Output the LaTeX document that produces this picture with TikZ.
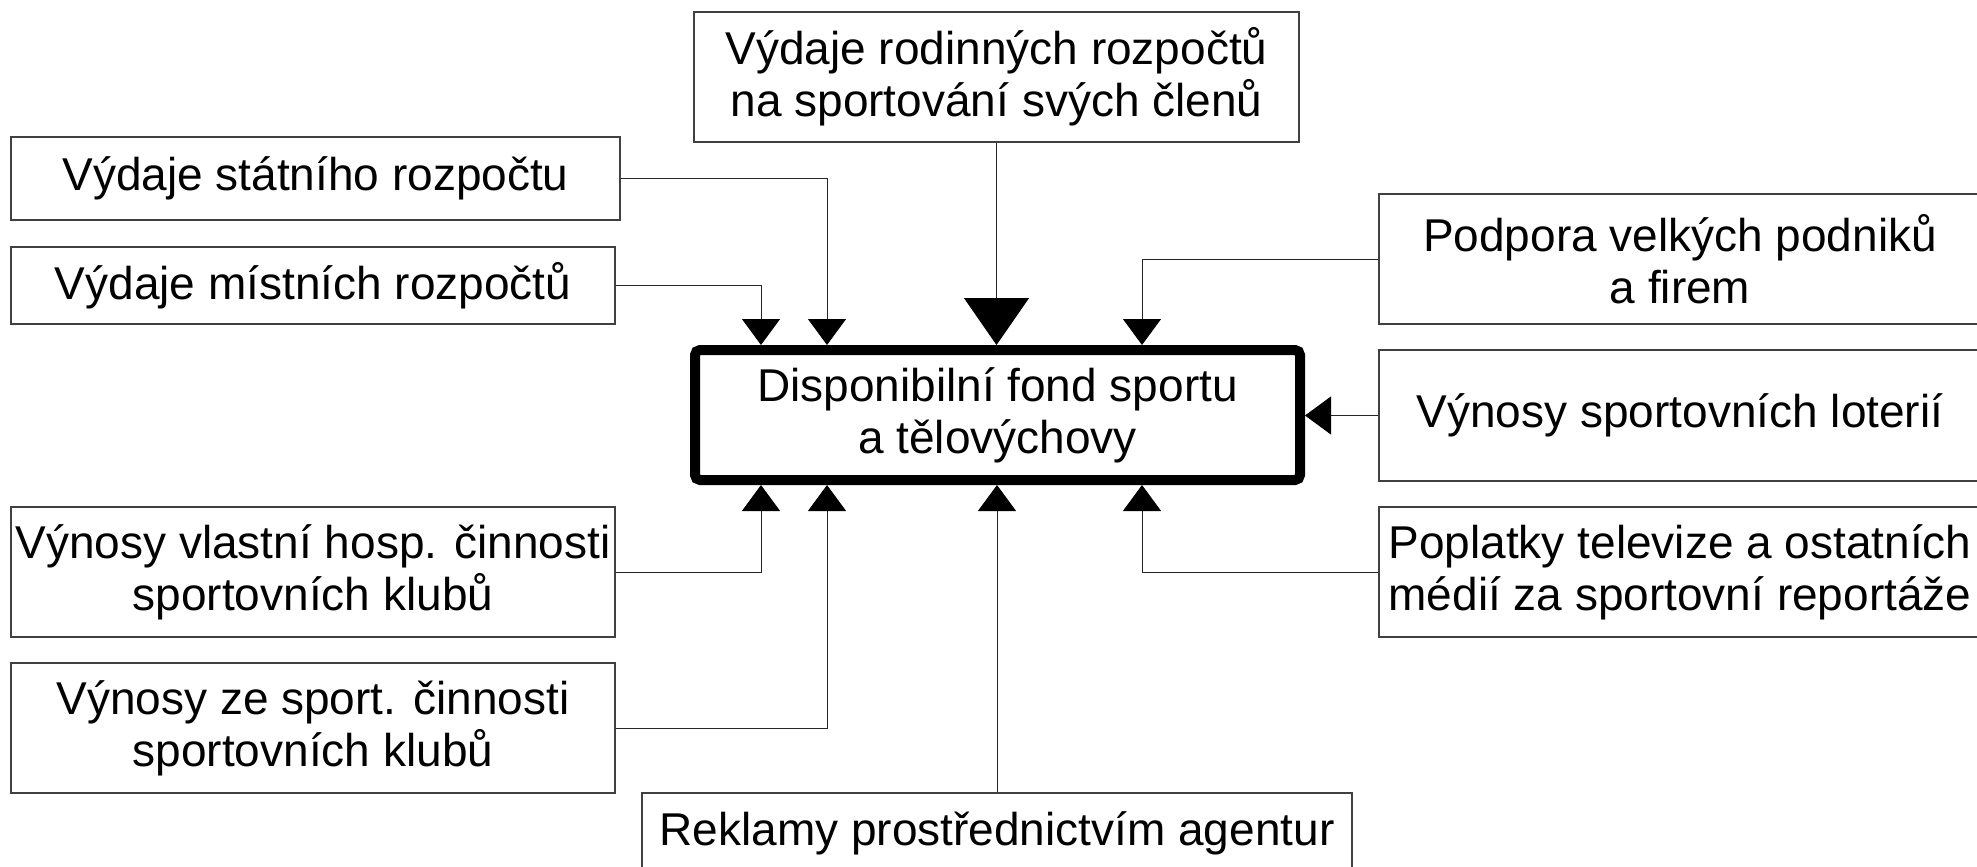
\documentclass[tikz,border=0pt]{standalone}
\usepackage{fontspec}
\setmainfont{Liberation Sans}
\usetikzlibrary{arrows.meta}
\begin{document}
\begin{tikzpicture}[x=0.5pt,y=-0.5pt,
  txt/.style={font=\fontsize{23}{26}\selectfont},
  box/.style={txt, draw=black!75, line width=0.8pt, inner sep=0pt, align=center},
  hub/.style={txt, draw=black, line width=5pt, rounded corners=2.5pt, inner sep=0pt, align=center,
              minimum width=302.5pt, minimum height=65pt},
  conn/.style={draw=black!85, line width=0.5pt, -{Triangle[width=19pt,length=13pt,color=black]}},
  bigconn/.style={draw=black!85, line width=0.5pt, -{Triangle[width=32.5pt,length=23.5pt,color=black]}}]
\useasboundingbox (0,0) rectangle (1977,867);

% central node
\node[hub] (fund) at (997.5,415) {Disponibilní fond sportu\\a tělovýchovy};

% top
\node[box, minimum width=302.5pt, minimum height=65pt] (rod) at (996.5,77)
  {Výdaje rodinných rozpočtů\\na sportování svých členů};

% left column
\node[box, minimum width=304.5pt, minimum height=41.5pt] (stat) at (315.5,178.5) {Výdaje státního rozpočtu};
\node[box, minimum width=302pt, minimum height=38.5pt] (mist) at (313,285.5) {Výdaje místních rozpočtů};
\node[box, minimum width=302pt, minimum height=65pt] (vlast) at (313,572)
  {Výnosy vlastní hosp. činnosti\\sportovních klubů};
\node[box, minimum width=302pt, minimum height=65pt] (zesp) at (313,728)
  {Výnosy ze sport. činnosti\\sportovních klubů};

% right column
\node[box, minimum width=301pt, minimum height=65pt] (podp) at (1680,259)
  {Podpora velkých podniků\\a firem};
\node[box, minimum width=301pt, minimum height=65.5pt] (lot) at (1680,415.5)
  {Výnosy sportovních loterií};
\node[box, minimum width=301pt, minimum height=65pt] (popl) at (1680,572)
  {Poplatky televize a ostatních\\médií za sportovní reportáže};

% bottom
\node[box, minimum width=355pt, minimum height=40pt] (rekl) at (997,833)
  {Reklamy prostřednictvím agentur};

% helper columns
\coordinate (cA) at (761,0);
\coordinate (cB) at (827,0);
\coordinate (cC) at (1142,0);

% connectors
\draw[bigconn] (rod.south) -- (rod.south |- fund.north);
\draw[conn] (stat.east) -| (cB |- fund.north);
\draw[conn] (mist.east) -| (cA |- fund.north);
\draw[conn] (podp.west) -| (cC |- fund.north);
\draw[conn] (lot.west) -- (lot.west -| fund.east);
\draw[conn] (popl.west) -| (cC |- fund.south);
\draw[conn] (vlast.east) -| (cA |- fund.south);
\draw[conn] (zesp.east) -| (cB |- fund.south);
\draw[conn] (rekl.north) -- (rekl.north |- fund.south);
\end{tikzpicture}
\end{document}
